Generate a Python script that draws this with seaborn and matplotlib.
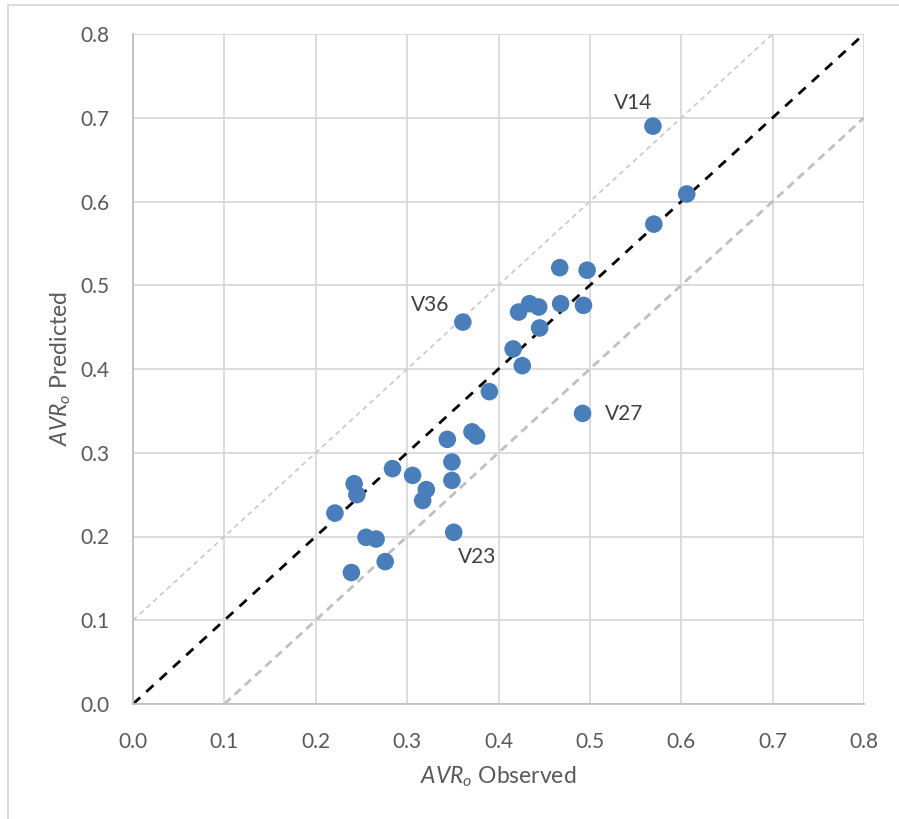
import matplotlib
matplotlib.use("Agg")
import matplotlib.pyplot as plt
import seaborn as sns
import pandas as pd
from matplotlib.lines import Line2D

# Observed vs predicted AVR_o for each specimen
observed = [0.569, 0.606, 0.570, 0.467, 0.497, 0.361, 0.434, 0.444, 0.468, 0.493,
            0.422, 0.445, 0.416, 0.426, 0.390, 0.492, 0.344, 0.371, 0.376, 0.349,
            0.349, 0.284, 0.306, 0.321, 0.317, 0.242, 0.245, 0.221, 0.255, 0.266,
            0.351, 0.276, 0.239]
predicted = [0.690, 0.609, 0.573, 0.521, 0.518, 0.456, 0.478, 0.474, 0.478, 0.476,
             0.468, 0.449, 0.424, 0.404, 0.373, 0.347, 0.316, 0.325, 0.320, 0.289,
             0.267, 0.281, 0.273, 0.256, 0.243, 0.263, 0.250, 0.228, 0.199, 0.197,
             0.205, 0.170, 0.157]

# Named outliers
outlier_names = ["V14", "V36", "V27", "V23"]
outlier_obs = [0.569, 0.361, 0.492, 0.351]
outlier_pred = [0.690, 0.456, 0.347, 0.205]

ticks = [0.0, 0.1, 0.2, 0.3, 0.4, 0.5, 0.6, 0.7, 0.8]
tick_labels = ["0.0", "0.1", "0.2", "0.3", "0.4", "0.5", "0.6", "0.7", "0.8"]

sns.set_theme(style="white")
plt.rcParams["font.family"] = ["Lato", "DejaVu Sans"]
plt.rcParams["mathtext.fontset"] = "custom"
plt.rcParams["mathtext.it"] = "Lato:italic"
plt.rcParams["mathtext.rm"] = "Lato"

text_col = "#595959"
grid_col = "#d9d9d9"

fig = plt.figure(figsize=(8.99, 8.19), dpi=100)
ax = fig.add_axes([133 / 899, 1 - 704 / 819, (864 - 133) / 899, (704 - 34) / 819])

# Reference lines: 1:1 and +/- 0.1 bands
ax.plot([0.0, 0.7], [0.1, 0.8], color="#c8c8c8", lw=1.2, dashes=(3, 2.5), zorder=2)
ax.plot([0.1, 0.8], [0.0, 0.7], color="#c0c0c0", lw=2.0, dashes=(3, 2), zorder=2)
ax.plot([0.0, 0.8], [0.0, 0.8], color="black", lw=2.0, dashes=(3.5, 3), zorder=2)

df = pd.DataFrame({"observed": observed, "predicted": predicted})
sns.scatterplot(data=df, x="observed", y="predicted", ax=ax, color="#4a7ebb",
                s=160, edgecolor="none", zorder=3, legend=False)

offsets = {"V14": (-0.022, 0.028), "V36": (-0.036, 0.021), "V27": (0.045, -0.001), "V23": (0.026, -0.030)}
for name, xo, yo in zip(outlier_names, outlier_obs, outlier_pred):
    dx, dy = offsets[name]
    ax.text(xo + dx, yo + dy, name, fontsize=15, color="#404040", ha="center", va="center")

ax.set_xlim(0, 0.8)
ax.set_ylim(0, 0.8)
ax.set_xticks(ticks)
ax.set_xticklabels(tick_labels)
ax.set_yticks(ticks)
ax.set_yticklabels(tick_labels)
ax.tick_params(axis="both", labelsize=15, colors=text_col, length=0)
ax.tick_params(axis="x", pad=20)
ax.tick_params(axis="y", pad=17)

ax.grid(True, color=grid_col, lw=1.3)
ax.set_axisbelow(True)
for side in ["top", "right"]:
    ax.spines[side].set_visible(False)
for side in ["left", "bottom"]:
    ax.spines[side].set_color("#bfbfbf")
    ax.spines[side].set_linewidth(1.3)

ax.set_xlabel(r"$AVR_o$ Observed", fontsize=16.5, color=text_col, labelpad=9)
ax.set_ylabel(r"$AVR_o$ Predicted", fontsize=16.5, color=text_col, labelpad=5)

# Chart area frame edges
fig.add_artist(Line2D([8 / 899, 1.0], [1 - 4.5 / 819, 1 - 4.5 / 819], transform=fig.transFigure, color=grid_col, lw=1.3))
fig.add_artist(Line2D([8 / 899, 8 / 899], [0.0, 1 - 4.5 / 819], transform=fig.transFigure, color=grid_col, lw=1.3))

fig.savefig("out.png", dpi=100, facecolor="white")
